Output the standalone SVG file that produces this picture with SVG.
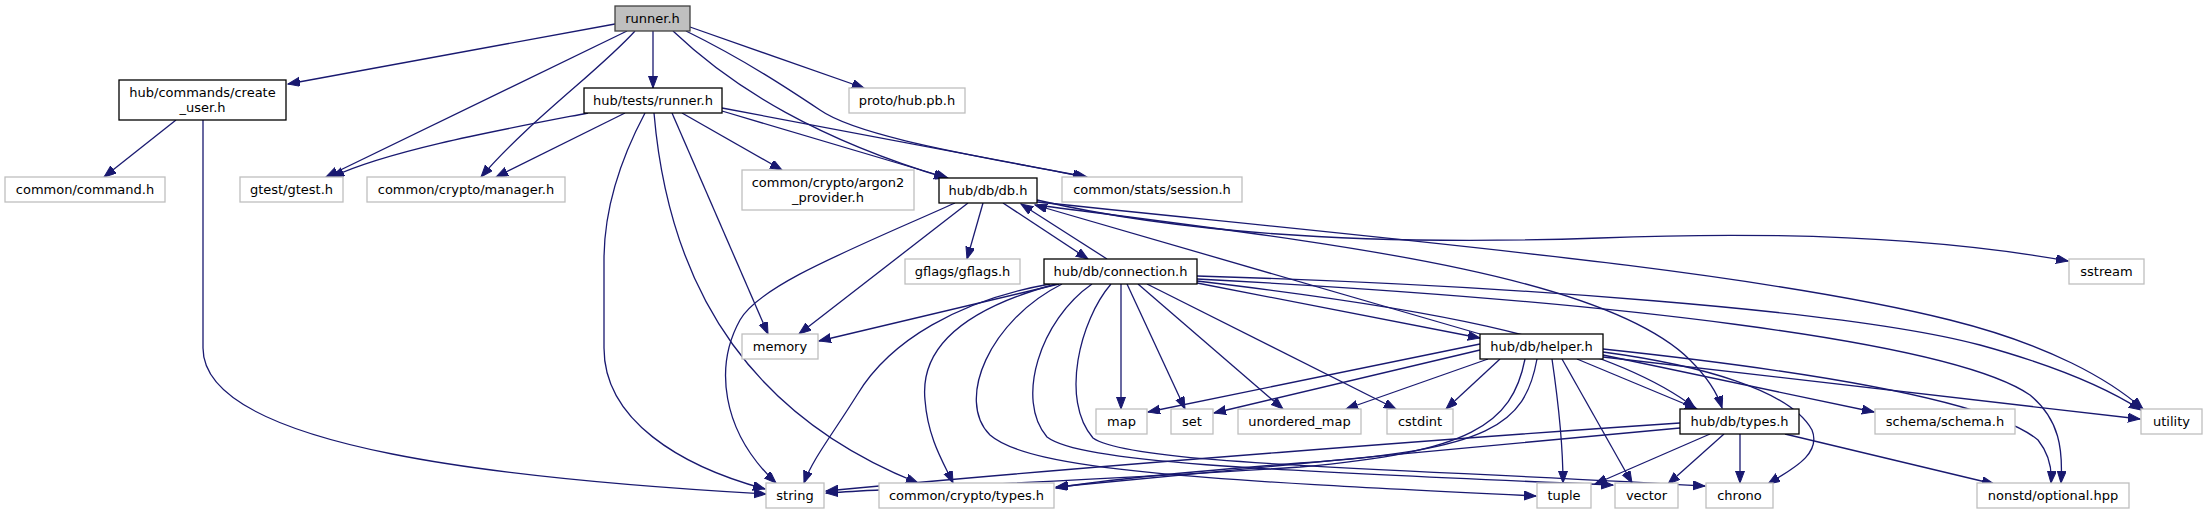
<svg xmlns="http://www.w3.org/2000/svg" width="2207" height="515" viewBox="0 0 2207 515">
<defs>
<style>
.bg{fill:#ffffff}
.n rect{fill:#ffffff;stroke:#bfbfbf;stroke-width:1.3}
.n.l rect{stroke:#000000}
.n.root rect{fill:#bfbfbf;stroke:#404040}
.n text{font-family:"DejaVu Sans","Liberation Sans",sans-serif;font-size:13px;fill:#000000;text-anchor:middle}
#edges path{fill:none;stroke:#191970;stroke-width:1.3;marker-end:url(#ah)}
</style>
<marker id="ah" markerUnits="userSpaceOnUse" markerWidth="13" markerHeight="10" refX="12" refY="4.5" orient="auto">
<path d="M0,0 L12,4.5 L0,9 z" fill="#191970" stroke="#191970" stroke-width="1"/>
</marker>
</defs>
<rect class="bg" x="0" y="0" width="2207" height="515"/>
<g id="edges">
<path d="M615,24 L288,84"/>
<path d="M627,31 L326,177"/>
<path d="M635,31 C600,70 530,120 481,177"/>
<path d="M653,31 L653,88"/>
<path d="M673,31 C735,90 820,140 946,178"/>
<path d="M686,31 C745,60 790,90 820,110 C860,138 990,158 1085,177"/>
<path d="M690,27 L864,88"/>
<path d="M588,113 C500,130 390,150 332,177"/>
<path d="M625,113 L496,177"/>
<path d="M645,113 C620,160 604,210 604,260 L604,348 C604,420 680,466 765,489"/>
<path d="M672,113 L768,334"/>
<path d="M654,113 C670,300 760,420 918,483"/>
<path d="M682,113 L782,170"/>
<path d="M722,111 L948,178"/>
<path d="M722,108 L1087,177"/>
<path d="M176,120 L104,177"/>
<path d="M203,120 L203,348 C203,450 520,480 766,494"/>
<path d="M983,203 L967,259"/>
<path d="M1003,203 L1088,259"/>
<path d="M968,203 L799,334"/>
<path d="M955,203 C850,250 760,285 740,320 C715,365 720,430 776,483"/>
<path d="M1037,200 C1200,238 1400,245 1600,238 C1800,230 1950,240 2068,261"/>
<path d="M1037,202 C1400,240 1750,270 1950,320 C2050,345 2110,380 2143,409"/>
<path d="M1037,205 C1300,240 1600,270 1690,360 C1710,380 1718,395 1722,408"/>
<path d="M1107,259 L1021,204"/>
<path d="M1059,284 L819,341"/>
<path d="M1050,284 C960,300 890,340 857,395 C832,435 812,460 804,483"/>
<path d="M1056,284 C960,310 920,350 925,400 C928,440 945,465 953,483"/>
<path d="M1062,284 C990,320 955,400 990,435 C1030,470 1200,480 1536,496"/>
<path d="M1092,284 C1040,320 1015,400 1047,437 C1080,462 1250,470 1613,485"/>
<path d="M1111,284 C1080,320 1060,400 1093,438 C1130,465 1400,468 1705,486"/>
<path d="M1121,284 L1121,409"/>
<path d="M1127,284 L1185,409"/>
<path d="M1138,284 L1283,409"/>
<path d="M1147,284 L1396,409"/>
<path d="M1197,283 L1480,338"/>
<path d="M1197,281 C1400,305 1600,335 1695,408"/>
<path d="M1197,276 C1500,285 1850,310 1980,345 C2060,367 2110,390 2141,410"/>
<path d="M1197,279 C1600,300 1950,340 2030,395 C2060,420 2063,450 2061,483"/>
<path d="M1480,334 L1035,205"/>
<path d="M1480,344 L1148,412"/>
<path d="M1480,350 L1214,413"/>
<path d="M1488,359 L1346,409"/>
<path d="M1500,359 L1446,409"/>
<path d="M1525,359 C1512,425 1470,452 1300,467 C1100,480 900,488 826,493"/>
<path d="M1537,359 C1525,425 1490,450 1300,463 C1200,471 1100,480 1056,488"/>
<path d="M1552,359 C1558,400 1563,440 1563,483"/>
<path d="M1562,359 L1632,483"/>
<path d="M1577,359 L1697,409"/>
<path d="M1603,352 C1700,365 1790,390 1812,430 C1822,455 1790,470 1768,484"/>
<path d="M1603,355 L1874,412"/>
<path d="M1603,349 C1800,370 1990,400 2038,440 C2050,455 2052,470 2051,483"/>
<path d="M1603,357 L2140,419"/>
<path d="M1680,423 C1500,435 1100,465 826,491"/>
<path d="M1680,428 C1500,445 1200,472 1056,487"/>
<path d="M1710,434 L1595,484"/>
<path d="M1724,434 L1668,484"/>
<path d="M1740,434 L1740,483"/>
<path d="M1785,434 L1994,484"/>
</g>
<g id="node-runner" class="n root"><rect x="615" y="6" width="75" height="25"/><text x="652.5" y="23">runner.h</text></g>
<g id="node-create-user" class="n l"><rect x="119" y="80" width="167" height="40"/><text x="202.5" y="96.5">hub/commands/create</text><text x="202.5" y="111.5">_user.h</text></g>
<g id="node-command" class="n"><rect x="5" y="177" width="160" height="25"/><text x="85" y="194">common/command.h</text></g>
<g id="node-gtest" class="n"><rect x="240" y="177" width="103" height="25"/><text x="291.5" y="194">gtest/gtest.h</text></g>
<g id="node-manager" class="n"><rect x="367" y="177" width="198" height="25"/><text x="466" y="194">common/crypto/manager.h</text></g>
<g id="node-tests-runner" class="n l"><rect x="584" y="88" width="138" height="25"/><text x="653" y="105">hub/tests/runner.h</text></g>
<g id="node-proto" class="n"><rect x="849" y="88" width="116" height="25"/><text x="907" y="105">proto/hub.pb.h</text></g>
<g id="node-argon2" class="n"><rect x="742" y="170" width="172" height="40"/><text x="828" y="186.5">common/crypto/argon2</text><text x="828" y="201.5">_provider.h</text></g>
<g id="node-db" class="n l"><rect x="939" y="178" width="98" height="25"/><text x="988" y="195">hub/db/db.h</text></g>
<g id="node-session" class="n"><rect x="1062" y="177" width="180" height="25"/><text x="1152" y="194">common/stats/session.h</text></g>
<g id="node-gflags" class="n"><rect x="905" y="259" width="115" height="25"/><text x="962.5" y="276">gflags/gflags.h</text></g>
<g id="node-connection" class="n l"><rect x="1044" y="259" width="153" height="25"/><text x="1120.5" y="276">hub/db/connection.h</text></g>
<g id="node-sstream" class="n"><rect x="2069" y="259" width="75" height="25"/><text x="2106.5" y="276">sstream</text></g>
<g id="node-memory" class="n"><rect x="742" y="334" width="76" height="25"/><text x="780" y="351">memory</text></g>
<g id="node-helper" class="n l"><rect x="1480" y="334" width="123" height="25"/><text x="1541.5" y="351">hub/db/helper.h</text></g>
<g id="node-map" class="n"><rect x="1096" y="409" width="51" height="25"/><text x="1121.5" y="426">map</text></g>
<g id="node-set" class="n"><rect x="1171" y="409" width="42" height="25"/><text x="1192" y="426">set</text></g>
<g id="node-unordered-map" class="n"><rect x="1238" y="409" width="123" height="25"/><text x="1299.5" y="426">unordered_map</text></g>
<g id="node-cstdint" class="n"><rect x="1387" y="409" width="66" height="25"/><text x="1420" y="426">cstdint</text></g>
<g id="node-types" class="n l"><rect x="1680" y="409" width="119" height="25"/><text x="1739.5" y="426">hub/db/types.h</text></g>
<g id="node-schema" class="n"><rect x="1875" y="409" width="140" height="25"/><text x="1945" y="426">schema/schema.h</text></g>
<g id="node-utility" class="n"><rect x="2141" y="409" width="61" height="25"/><text x="2171.5" y="426">utility</text></g>
<g id="node-string" class="n"><rect x="766" y="483" width="58" height="25"/><text x="795" y="500">string</text></g>
<g id="node-crypto-types" class="n"><rect x="879" y="483" width="175" height="25"/><text x="966.5" y="500">common/crypto/types.h</text></g>
<g id="node-tuple" class="n"><rect x="1537" y="483" width="54" height="25"/><text x="1564" y="500">tuple</text></g>
<g id="node-vector" class="n"><rect x="1615" y="483" width="63" height="25"/><text x="1646.5" y="500">vector</text></g>
<g id="node-chrono" class="n"><rect x="1706" y="483" width="67" height="25"/><text x="1739.5" y="500">chrono</text></g>
<g id="node-optional" class="n"><rect x="1977" y="483" width="152" height="25"/><text x="2053" y="500">nonstd/optional.hpp</text></g>
</svg>
